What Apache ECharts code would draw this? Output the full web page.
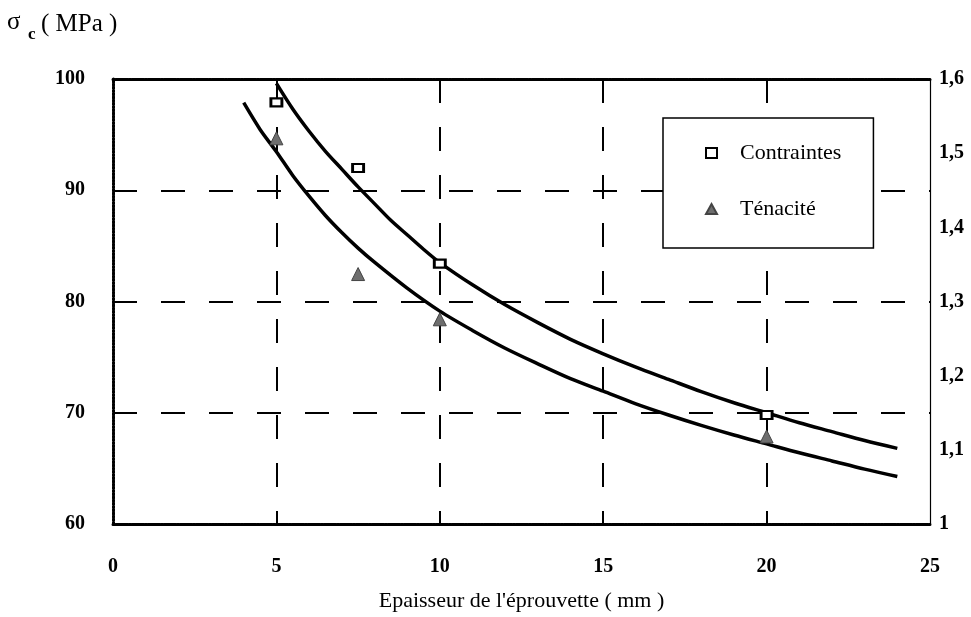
<!DOCTYPE html>
<html>
<head>
<meta charset="utf-8">
<script src="https://cdn.jsdelivr.net/npm/echarts@6/dist/echarts.min.js"></script>
<style>
  html, body { margin: 0; padding: 0; background: #fff; }
  #chart { width: 971px; height: 617px; }
</style>
</head>
<body>
<div id="chart"></div>
<script>
// Measured specimens (thickness in mm)
const thicknessPts = [5, 7.5, 10, 20];
const contraintesPts = [97.9, 92.0, 83.4, 69.8];      // sigma_c, MPa (left axis)
const tenacitePts = [1.52, 1.337, 1.276, 1.118];      // toughness (right axis)

// Trend curve through the stress points (left axis)
const thicknessFitC = [5, 5.5, 6, 6.5, 7, 7.5, 8, 8.5, 9, 9.5, 10, 11, 12, 13, 14, 15, 16, 17, 18, 19, 20, 21, 22, 23, 24];
const contraintesFit = [99.6, 97.3, 95.3, 93.5, 91.9, 90.3, 88.8, 87.3, 86.0, 84.7, 83.5, 81.5, 79.7, 78.1, 76.6, 75.3, 74.1, 73.0, 71.9, 70.9, 70.0, 69.1, 68.3, 67.5, 66.8];

// Trend curve through the toughness points (right axis)
const thicknessFitT = [4, 4.5, 5, 5.5, 6, 6.5, 7, 7.5, 8, 9, 10, 11, 12, 13, 14, 15, 16, 17, 18, 19, 20, 21, 22, 23, 24];
const tenaciteFit = [1.568, 1.532, 1.502, 1.470, 1.442, 1.416, 1.393, 1.372, 1.353, 1.318, 1.287, 1.261, 1.237, 1.216, 1.196, 1.179, 1.162, 1.147, 1.133, 1.120, 1.108, 1.096, 1.085, 1.074, 1.064];

// Axis ranges
const xRange = [0, 25, 5];
const leftRange = [60, 100, 10];
const rightRange = [1, 1.6, 0.1];

const FONT = '"Liberation Serif", "Times New Roman", serif';

const zip = (xs, ys) => xs.map((x, i) => [x, ys[i]]);

const chart = echarts.init(document.getElementById('chart'), null, { renderer: 'canvas' });

const dotted = { color: '#000', width: 3, type: [2, 1.2] };
const gridDash = { color: '#000', width: 2, type: [24, 24] };
const tickFont = { color: '#000', fontFamily: FONT, fontSize: 20, fontWeight: 'bold' };

chart.setOption({
  animation: false,
  backgroundColor: '#fff',
  grid: { left: 113, right: 41, top: 79, bottom: 91, containLabel: false },
  graphic: [
    { type: 'text', left: 7, top: 10, style: { text: 'σ', font: '25px ' + FONT, fill: '#000' } },
    { type: 'text', left: 28, top: 26, style: { text: 'c', font: 'bold 17px ' + FONT, fill: '#000' } },
    { type: 'text', left: 41, top: 12, style: { text: '( MPa )', font: '25px ' + FONT, fill: '#000' } }
  ],
  legend: {
    orient: 'vertical',
    left: 663,
    top: 118,
    padding: [24, 32, 28, 42],
    itemGap: 34,
    itemWidth: 11,
    itemHeight: 10,
    borderColor: '#000',
    borderWidth: 1.5,
    backgroundColor: '#fff',
    data: [
      { name: 'Contraintes', icon: 'rect' },
      { name: 'Ténacité', icon: 'triangle' }
    ],
    formatter: '{s|}{name}',
    textStyle: {
      color: '#000', fontFamily: FONT, fontSize: 22, lineHeight: 22,
      rich: { s: { width: 18 } }
    }
  },
  xAxis: [
    {
      type: 'value', position: 'bottom',
      min: xRange[0], max: xRange[1], interval: xRange[2],
      name: "Epaisseur de l'éprouvette ( mm )",
      nameLocation: 'middle', nameGap: 66,
      nameTextStyle: { color: '#000', fontFamily: FONT, fontSize: 22 },
      axisLine: { show: true, onZero: false, lineStyle: dotted },
      axisTick: { show: false },
      axisLabel: Object.assign({ margin: 33 }, tickFont),
      splitLine: { show: true, showMinLine: false, showMaxLine: false, lineStyle: gridDash }
    },
    {
      type: 'value', position: 'top',
      min: xRange[0], max: xRange[1], interval: xRange[2],
      axisLine: { show: true, onZero: false, lineStyle: dotted },
      axisTick: { show: false },
      axisLabel: { show: false },
      splitLine: { show: false }
    }
  ],
  yAxis: [
    {
      type: 'value', position: 'left',
      min: leftRange[0], max: leftRange[1], interval: leftRange[2],
      axisLine: { show: true, onZero: false, lineStyle: dotted },
      axisTick: { show: false },
      axisLabel: Object.assign({ margin: 28 }, tickFont),
      splitLine: { show: true, showMinLine: false, showMaxLine: false, lineStyle: gridDash }
    },
    {
      type: 'value', position: 'right',
      min: rightRange[0], max: rightRange[1], interval: rightRange[2],
      axisLine: { show: true, onZero: false, lineStyle: { color: '#000', width: 1.2 } },
      axisTick: { show: false },
      axisLabel: Object.assign({
        margin: 9,
        formatter: v => (Math.abs(v - 1) < 1e-9 ? '1' : v.toFixed(1).replace('.', ','))
      }, tickFont),
      splitLine: { show: false }
    }
  ],
  series: [
    {
      name: 'Contraintes (courbe)', type: 'line', xAxisIndex: 0, yAxisIndex: 0,
      data: zip(thicknessFitC, contraintesFit),
      smooth: 0.3, showSymbol: false, silent: true,
      lineStyle: { color: '#000', width: 3.5 }, z: 3
    },
    {
      name: 'Ténacité (courbe)', type: 'line', xAxisIndex: 0, yAxisIndex: 1,
      data: zip(thicknessFitT, tenaciteFit),
      smooth: 0.3, showSymbol: false, silent: true,
      lineStyle: { color: '#000', width: 3.5 }, z: 3
    },
    {
      name: 'Contraintes', type: 'scatter', xAxisIndex: 0, yAxisIndex: 0,
      data: zip(thicknessPts, contraintesPts),
      symbol: 'rect', symbolSize: [11, 8],
      itemStyle: { color: '#fff', borderColor: '#000', borderWidth: 2.5, opacity: 1 },
      z: 5
    },
    {
      name: 'Ténacité', type: 'scatter', xAxisIndex: 0, yAxisIndex: 1,
      data: zip(thicknessPts, tenacitePts),
      symbol: 'triangle', symbolSize: 13,
      itemStyle: { color: '#6e6e6e', borderColor: '#444', borderWidth: 1, opacity: 1 },
      z: 5
    }
  ]
});
</script>
</body>
</html>
